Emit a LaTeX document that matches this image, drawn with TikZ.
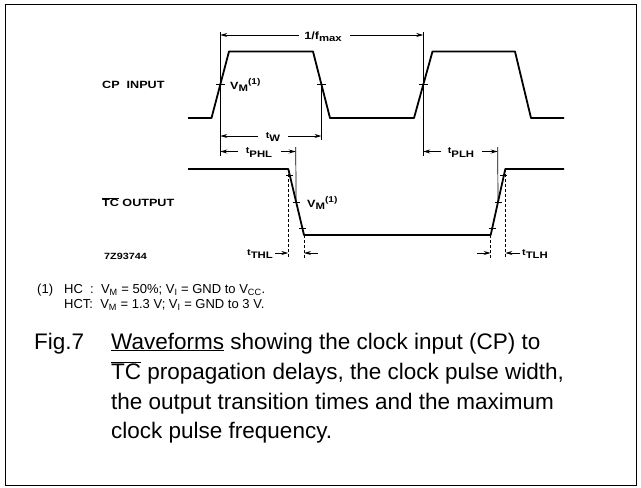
\documentclass[tikz,border=0pt]{standalone}
\usepackage{fontspec}
\setmainfont{Liberation Sans}
\newfontfamily\lblfont[FakeStretch=1.2]{Liberation Sans}
\usetikzlibrary{arrows.meta,calc}
\newcommand{\sbs}[1]{\textsubscript{#1}}
\newcommand{\lsub}[1]{\raisebox{-0.4ex}{\scalebox{0.9}{#1}}}
\newcommand{\lsup}[1]{\raisebox{0.75ex}{\scalebox{0.8}{#1}}}
\newcommand{\tsm}{\raisebox{0.25ex}{\scalebox{0.85}{t}}}
\newcommand{\ovl}[1]{$\overline{\hbox{#1}}$}
\begin{document}
\begin{tikzpicture}[x=1pt,y=-1pt,
  wave/.style={line width=1.8pt,line join=round},
  thinln/.style={line width=0.7pt},
  dashln/.style={line width=0.6pt,densely dashed},
  dimarrow/.style={line width=0.8pt,-{Stealth[length=7pt,width=4pt]}},
  tickln/.style={line width=0.8pt},
  lbl/.style={font=\lblfont\bfseries\fontsize{10.5}{12}\selectfont,inner sep=0pt},
  notes/.style={font=\fontsize{13}{15}\selectfont,inner sep=0pt},
  captxt/.style={font=\fontsize{22.5}{27}\selectfont,inner sep=0pt}
]
\useasboundingbox (0,0) rectangle (641,488);
\draw[line width=1pt] (5,4.5) rectangle (636,485.5);

% CP input waveform
\draw[wave] (188,118) -- (211.5,118) -- (229,51.5) -- (313,51.5) -- (330,118)
  -- (414,118) -- (432.5,51.5) -- (515,51.5) -- (531,118) -- (564,118);
\coordinate (r1) at (220.25,84.75);
\coordinate (f1) at (321.5,84.75);
\coordinate (r2) at (423.25,84.75);
\foreach \p in {r1,f1,r2} \draw[tickln] ([xshift=-4.5pt]\p) -- ([xshift=4.5pt]\p);

% TC output waveform
\coordinate (th) at (288.3,169);
\coordinate (tl) at (304,235);
\coordinate (ul) at (490.7,235);
\coordinate (uh) at (505.3,169);
\draw[wave] (188,169) -- (th) -- (tl) -- (ul) -- (uh) -- (564,169);
\coordinate (tf) at ($(th)!0.5!(tl)$);
\coordinate (tr) at ($(ul)!0.5!(uh)$);
\foreach \a/\b in {th/tl,ul/uh}
  \foreach \t in {0.1,0.5,0.9}
    \draw[tickln] ($(\a)!\t!(\b)+(-3.5,0)$) -- ($(\a)!\t!(\b)+(3.5,0)$);

% reference verticals
\draw[thinln] (220.25,32) -- (220.25,156);
\draw[thinln] (f1) -- (321.5,140);
\draw[thinln] (423.25,32) -- (423.25,156);
\draw[thinln] (295.7,147) -- (tf);
\draw[thinln] (497.7,147) -- (tr);
\draw[dashln] (th) -- (288.3,258);
\draw[dashln] (tl) -- (304,258);
\draw[dashln] (ul) -- (490.7,258);
\draw[dashln] (uh) -- (505.3,258);

% 1/fmax
\node[lbl] (fmax) at (323,37) {1/f\lsub{max}};
\draw[dimarrow] (299,35) -- (220.25,35);
\draw[dimarrow] (350,35) -- (423.25,35);
% tW
\node[lbl] (tw) at (273,137) {\tsm\lsub{W}};
\draw[dimarrow] (258,136) -- (220.25,136);
\draw[dimarrow] (288,136) -- (321.5,136);
% tPHL
\node[lbl] (tphl) at (259,152.5) {\tsm\lsub{PHL}};
\draw[dimarrow] (238,151.5) -- (220.25,151.5);
\draw[dimarrow] (281,151.5) -- (295.7,151.5);
% tPLH
\node[lbl] (tplh) at (461,152.5) {\tsm\lsub{PLH}};
\draw[dimarrow] (441,151.5) -- (423.25,151.5);
\draw[dimarrow] (482,151.5) -- (497.7,151.5);
% tTHL
\node[lbl,anchor=east] (tthl) at (273,254) {\tsm\lsub{THL}};
\draw[dimarrow] (275,253) -- (288.3,253);
\draw[dimarrow] (318,253) -- (304,253);
% tTLH
\node[lbl,anchor=west] (ttlh) at (522,254) {\tsm\lsub{TLH}};
\draw[dimarrow] (477,253) -- (490.7,253);
\draw[dimarrow] (520,253) -- (505.3,253);

% VM labels
\node[lbl,anchor=west] (vm1) at (230,85) {V\lsub{M}\lsup{(1)}};
\node[lbl,anchor=west] (vm2) at (307,203) {V\lsub{M}\lsup{(1)}};

% signal names
\node[lbl,anchor=west] (cpin) at (102,85) {CP\ \ INPUT};
\node[lbl,anchor=west] (tcout) at (102,202) {\ovl{TC}\ OUTPUT};
\node[lbl,anchor=west,font=\lblfont\bfseries\fontsize{9}{10}\selectfont] (code) at (104,256) {7Z93744};

% notes
\node[notes,anchor=base west] (n1) at (37,293) {(1)};
\node[notes,anchor=base west] (n2) at (64,293) {HC\ \ :\ \ V\sbs{M} = 50\%; V\sbs{I} = GND to V\sbs{CC}.};
\node[notes,anchor=base west] (n3) at (64,308) {HCT:\ \ V\sbs{M} = 1.3 V; V\sbs{I} = GND to 3 V.};

% caption
\node[captxt,anchor=base west] (fig) at (34,349) {Fig.7};
\node[captxt,anchor=base west] (c1) at (111,349) {\underline{Waveforms} showing the clock input (CP) to};
\node[captxt,anchor=base west] (c2) at (111,379) {\ovl{TC} propagation delays, the clock pulse width,};
\node[captxt,anchor=base west] (c3) at (111,409) {the output transition times and the maximum};
\node[captxt,anchor=base west] (c4) at (111,438) {clock pulse frequency.};
\end{tikzpicture}
\end{document}
